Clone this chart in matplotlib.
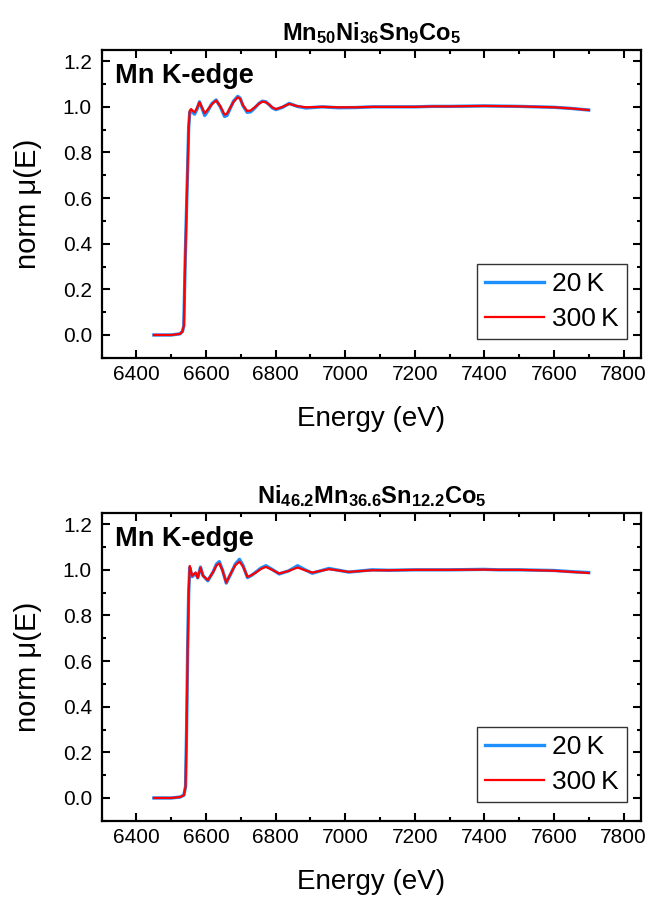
import numpy as np
import matplotlib
matplotlib.use("Agg")
import matplotlib.pyplot as plt

plt.rcParams['font.family'] = ['Liberation Sans', 'DejaVu Sans']
plt.rcParams['mathtext.fontset'] = 'custom'
plt.rcParams['mathtext.rm'] = 'Liberation Sans'
plt.rcParams['mathtext.bf'] = 'Liberation Sans:bold'

# ---- data ----
titles = [r"$\mathbf{Mn_{50}Ni_{36}Sn_{9}Co_{5}}$",
          r"$\mathbf{Ni_{46.2}Mn_{36.6}Sn_{12.2}Co_{5}}$"]
edge_label = "Mn K-edge"
labels = ["20\u2009K", "300\u2009K"]

# top sample
e_top = [6450, 6500, 6525, 6532, 6536, 6540, 6545, 6550, 6553, 6557, 6562,
         6567, 6574, 6581, 6588, 6596, 6605, 6617, 6629, 6641, 6653, 6660,
         6667, 6679, 6691, 6698, 6706, 6718, 6728, 6740, 6752, 6762, 6772,
         6781, 6791, 6801, 6820, 6839, 6862, 6887, 6934, 6980, 7030, 7080,
         7125, 7200, 7250, 7300, 7350, 7400, 7450, 7500, 7550, 7600, 7650,
         7700]
mu_top_20 = [0.0, 0.0, 0.005, 0.015, 0.04, 0.33, 0.62, 0.91, 0.975, 0.985,
             0.975, 0.968, 0.99, 1.022, 0.995, 0.962, 0.982, 1.015, 1.03,
             1.0, 0.958, 0.962, 0.985, 1.025, 1.046, 1.038, 1.005, 0.976,
             0.978, 0.995, 1.015, 1.025, 1.022, 1.01, 0.995, 0.988, 0.998,
             1.015, 1.002, 0.995, 1.0, 0.996, 0.997, 1.0, 1.0, 1.0, 1.002,
             1.002, 1.003, 1.004, 1.003, 1.002, 1.0, 0.998, 0.993, 0.986]
mu_top_300 = [0.0, 0.0, 0.005, 0.015, 0.04, 0.33, 0.62, 0.91, 0.983, 0.99,
              0.982, 0.976, 0.995, 1.02, 0.998, 0.972, 0.988, 1.012, 1.028,
              1.002, 0.966, 0.97, 0.99, 1.022, 1.042, 1.035, 1.007, 0.982,
              0.984, 0.998, 1.014, 1.023, 1.02, 1.01, 0.997, 0.99, 1.0,
              1.013, 1.003, 0.998, 1.0, 0.998, 0.998, 1.0, 1.0, 1.0, 1.002,
              1.002, 1.003, 1.004, 1.003, 1.002, 1.0, 0.998, 0.993, 0.986]

# bottom sample
e_bot = [6450, 6500, 6525, 6536, 6541, 6544, 6547, 6550, 6553, 6560, 6570,
         6576, 6584, 6591, 6605, 6620, 6630, 6638, 6647, 6658, 6672, 6684,
         6696, 6706, 6719, 6730, 6743, 6758, 6772, 6790, 6810, 6837, 6863,
         6885, 6905, 6953, 7010, 7077, 7125, 7200, 7300, 7400, 7440, 7500,
         7600, 7650, 7700]
mu_bot_20 = [0.0, 0.0, 0.004, 0.012, 0.05, 0.3, 0.65, 0.9, 1.01, 0.97,
             0.985, 0.965, 1.012, 0.975, 0.952, 0.99, 1.025, 1.036, 1.0,
             0.942, 0.985, 1.025, 1.046, 1.02, 0.966, 0.975, 0.99, 1.008,
             1.018, 1.002, 0.982, 0.995, 1.018, 1.0, 0.985, 1.006, 0.99, 1.0,
             0.998, 1.0, 1.0, 1.002, 1.0, 1.0, 0.997, 0.992, 0.988]
mu_bot_300 = [0.0, 0.0, 0.004, 0.012, 0.05, 0.3, 0.65, 0.9, 1.017, 0.974,
              0.988, 0.964, 1.01, 0.974, 0.955, 0.99, 1.02, 1.028, 0.998,
              0.944, 0.988, 1.02, 1.036, 1.015, 0.969, 0.976, 0.988, 1.004,
              1.013, 1.0, 0.984, 0.995, 1.01, 0.998, 0.988, 1.003, 0.991,
              0.998, 0.998, 1.0, 1.0, 1.001, 1.0, 1.0, 0.996, 0.991, 0.986]

panels = [(e_top, mu_top_20, mu_top_300), (e_bot, mu_bot_20, mu_bot_300)]

fig = plt.figure(figsize=(6.52, 8.99), dpi=100)
boxes = [[0.156, 0.602, 0.827, 0.3426], [0.156, 0.087, 0.827, 0.3426]]

for i, (e, mu20, mu300) in enumerate(panels):
    ax = fig.add_axes(boxes[i])
    ax.plot(e, mu20, color='#1e8fff', lw=2.4, label=labels[0])
    ax.plot(e, mu300, color='#ff0000', lw=1.6, label=labels[1])
    ax.set_xlim(6300, 7850)
    ax.set_ylim(-0.1, 1.25)
    ax.set_xticks(np.arange(6400, 7801, 200))
    ax.set_xticks(np.arange(6300, 7851, 100), minor=True)
    ax.set_yticks(np.arange(0, 1.21, 0.2))
    ax.set_yticks(np.arange(-0.1, 1.25, 0.1), minor=True)
    ax.yaxis.set_major_formatter(matplotlib.ticker.FormatStrFormatter('%.1f'))
    ax.tick_params(which='both', direction='in', top=True, right=True,
                   width=1.5, labelsize=15)
    ax.tick_params(which='major', length=6)
    ax.tick_params(which='minor', length=3)
    ax.tick_params(axis='x', pad=5)
    ax.tick_params(axis='y', pad=7)
    for s in ax.spines.values():
        s.set_linewidth(1.6)
    ax.set_xlabel("Energy (eV)", fontsize=20, labelpad=16)
    ax.set_ylabel("norm \u03bc(E)", fontsize=21, labelpad=15)
    ax.set_title(titles[i], fontsize=17, pad=7)
    ax.text(0.025, 0.958, edge_label, transform=ax.transAxes, fontsize=19.5,
            fontweight='bold', va='top', ha='left')
    leg = ax.legend(loc='lower right', bbox_to_anchor=(0.974, 0.062),
                    borderaxespad=0, fontsize=19, handlelength=2.25,
                    fancybox=False, framealpha=1, edgecolor='#333333',
                    borderpad=0.3, labelspacing=0.4, handletextpad=0.3)
    leg.get_frame().set_linewidth(1.0)

fig.savefig("out.png", dpi=100)
